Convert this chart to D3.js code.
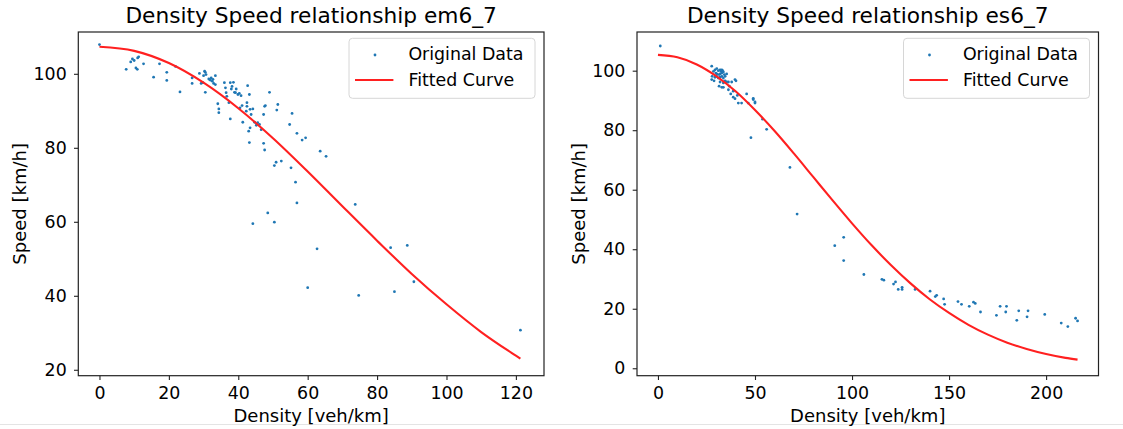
<!DOCTYPE html>
<meta charset="utf-8">
<head>
  <title>Density Speed relationship</title>
  <style>
    body { margin: 0; background: #fff; }
    svg text { font-family: "DejaVu Sans", sans-serif; fill: #000; }
  </style>
  <script src="https://d3js.org/d3.v7.min.js"></script>
</head>
<body>
  <svg width="1123" height="429"></svg>
  <script>
    // ---- data ----
    var em67Density = [0, 7.7, 9, 9.5, 10, 11, 11.3, 10.5, 10.9, 12.7, 15.6, 17.3, 19.4, 19.4, 21.9, 23.2,
      26.7, 26.7, 28.8, 30, 30.3, 30.5, 30.7, 31.5, 31.9, 32.2, 32.5, 32.7, 32.9, 33.4, 33.4, 30.5, 29.3, 29.8,
      34.1, 34.4, 34.4, 36, 36.3, 36.5, 36.7, 37.7, 38, 38.2, 38.6, 38.9, 39.2, 39.4, 39.9, 40.3, 40.8, 41.1,
      40.5, 37.3, 37.7, 42.5, 42.5, 42.3, 42.7, 43.2, 41.3, 43.4, 43.7, 44.2, 44.7, 45.6, 45.2, 46.1, 46.6,
      49, 47.6, 47.8, 47.3, 51.4, 51.1, 43.4,
      43, 43.2, 47.3, 47.6, 50.4, 50.9, 52.4, 54.8, 55.5, 55.2, 56.5, 56.9, 56.9, 58.4, 59.4, 63.6, 65.3,
      44.2, 48.5, 50.4, 62.7, 60, 73.7, 74.7, 83.9, 88.7, 85, 90.6, 121.3];
    var em67Speed = [107.9, 101.2, 103.2, 104, 103.6, 104.3, 104.6, 101.6, 101.2, 102.7, 99.1, 102.7, 100.4, 98.2, 102, 95.1,
      98.9, 97.4, 100.1, 99.5, 100.7, 100.4, 99.8, 98.6, 98.3, 98.9, 98, 98.5, 97.4, 99.5, 97.1, 95, 97.4, 97.6,
      91.9, 90.5, 89.5, 97.6, 96.2, 94.9, 93.9, 97.6, 95.9, 96.6, 97.7, 95, 94.9, 95.9, 94.4, 94.7, 94.1, 91.4,
      90.8, 92.2, 87.8, 92.2, 91.2, 89.9, 96.8, 94.4, 86.9, 90.4, 89, 90.5, 86.9, 86.8, 86.1, 86.3, 84.9,
      95, 91.2, 91.4, 89, 91.7, 90.2, 85.4,
      84.5, 81.4, 81.2, 79.4, 75.2, 76.1, 76.4, 86.3, 89.3, 74.6, 70.7, 83.9, 65.1, 82.1, 82.7, 79.1, 77.7,
      59.5, 62.4, 59.9, 52.7, 42.2, 64.7, 40.1, 53, 53.6, 41.1, 43.8, 30.7];
    var em67FitDensity = [0, 10, 20, 30, 40, 50, 60, 70, 80, 90, 100, 110, 120, 121.3];
    var em67FitSpeed = [107.3, 106.2, 102.9, 97.6, 90.7, 82.6, 73.6, 64.2, 54.9, 45.9, 37.7, 30.2, 23.8, 23.0];

    var es67Density = [1.2,
      27.7, 29.4, 30.3, 31.1, 32, 32.5, 32.9, 33.3, 28.6, 29.8, 30.3, 31.5, 32, 32.9, 33.7, 34.2, 27.9, 29.4,
      30.3, 31.1, 32, 32.9, 33.7, 34.6, 35.4, 34.6, 35.4, 33.7, 32, 31.5, 32.9, 33.7, 36.3, 38, 39.7, 36.8,
      36.3, 38.8, 37.5, 38.8, 39.7, 40.9, 41.4, 43.1, 45.7, 46.5, 49.1, 50, 28.9, 27.7,
      40.2, 49.1, 50, 53.9, 56, 47.9, 68,
      71.7, 91.1, 95.7, 95.7, 106.1, 115.4, 116.4, 121.4, 122.4, 123.8, 125.8, 125.8, 132.5, 140.2, 142.9,
      143.6, 147.2, 147.7, 154.6, 156.4, 160.4, 162.6, 163.5, 166.2, 174.4, 176.3, 179.6, 179.2, 184.9,
      185.9, 190.7, 190.2, 199.3, 207.8, 211.2, 215.2, 216.2];
    var es67Speed = [108.3,
      101.5, 100.3, 100.7, 100, 100.3, 99.8, 100.3, 100, 99.8, 99.2, 98.9, 98.7, 98.9, 99.2, 99.6, 98.7, 98.1, 97.8,
      98.1, 97.5, 97.8, 98.1, 97.5, 98.1, 98.9, 96.6, 96.2, 95.9, 96.2, 94.8, 94.4, 94.4, 96.2, 96.2, 97, 94.8,
      93.6, 93.1, 92.2, 91.1, 90.6, 91.7, 89.1, 89.1, 92.2, 89.1, 90.3, 89.1, 96.6, 97,
      96.6, 90.7, 89.5, 83.7, 80.3, 77.5, 67.5,
      51.8, 41.2, 44, 36.2, 31.5, 29.9, 29.6, 28.3, 29, 26.5, 26.5, 27.2, 26.5, 25.9, 24.1,
      24.5, 23.3, 21.5, 22.4, 21.5, 20.8, 22.2, 21.8, 18.9, 17.8, 20.8, 20.8, 18.9, 16.1,
      19.3, 19.3, 17.3, 18.1, 15.2, 14, 16.8, 15.9];
    var es67FitDensity = [0, 10, 20, 30, 40, 50, 60, 70, 80, 90, 100, 110, 120, 130, 140, 150, 160, 170, 180, 190, 200, 210, 216.2];
    var es67FitSpeed = [105.3, 104.5, 102.1, 98.2, 93.1, 86.8, 79.8, 72.2, 64.3, 56.4, 48.7, 41.4, 34.7, 28.6, 23.2, 18.6, 14.6, 11.3, 8.6, 6.5, 4.8, 3.5, 2.9];

    var em67XTicks = [0, 20, 40, 60, 80, 100, 120];
    var em67YTicks = [20, 40, 60, 80, 100];
    var es67XTicks = [0, 50, 100, 150, 200];
    var es67YTicks = [0, 20, 40, 60, 80, 100];

    var svg = d3.select('svg');

    // faint separator at the very bottom of the screenshot
    svg.append('line')
      .attr('x1', 0).attr('x2', 1123)
      .attr('y1', 424.5).attr('y2', 424.5)
      .attr('stroke', '#e4e4e4');

    function drawPanel(p) {
      var x = d3.scaleLinear().domain(p.xDomain).range([p.left, p.right]);
      var y = d3.scaleLinear().domain(p.yDomain).range([p.bottom, p.top]);
      var g = svg.append('g');

      // title
      g.append('text')
        .attr('x', (p.left + p.right) / 2)
        .attr('y', 23.3)
        .attr('text-anchor', 'middle')
        .style('font-size', '21.7px')
        .text(p.title);

      // scatter
      g.append('g').selectAll('circle')
        .data(p.px.map(function (d, i) { return [d, p.py[i]]; }))
        .join('circle')
        .attr('cx', function (d) { return x(d[0]); })
        .attr('cy', function (d) { return y(d[1]); })
        .attr('r', 1.4)
        .attr('fill', '#1f77b4');

      // fitted curve
      var line = d3.line()
        .x(function (d) { return x(d[0]); })
        .y(function (d) { return y(d[1]); })
        .curve(d3.curveMonotoneX);
      g.append('path')
        .datum(p.fx.map(function (d, i) { return [d, p.fy[i]]; }))
        .attr('d', line)
        .attr('fill', 'none')
        .attr('stroke', '#ff2020')
        .attr('stroke-width', 2.1);

      // axes
      var xAxis = g.append('g')
        .attr('transform', 'translate(0,' + p.bottom + ')')
        .call(d3.axisBottom(x).tickValues(p.xTicks).tickSize(4.3).tickSizeOuter(0).tickPadding(6.7));
      var yAxis = g.append('g')
        .attr('transform', 'translate(' + p.left + ',0)')
        .call(d3.axisLeft(y).tickValues(p.yTicks).tickSize(4.3).tickSizeOuter(0).tickPadding(7.3));
      [xAxis, yAxis].forEach(function (a) {
        a.select('.domain').remove();
        a.selectAll('line').attr('stroke', '#222').attr('stroke-width', 1.1);
        a.selectAll('text').style('font-size', '17.4px').attr('fill', '#000').style('font-family', '"DejaVu Sans", sans-serif');
      });

      // frame
      g.append('rect')
        .attr('x', p.left).attr('y', p.top)
        .attr('width', p.right - p.left).attr('height', p.bottom - p.top)
        .attr('fill', 'none')
        .attr('stroke', '#222')
        .attr('stroke-width', 1.2);

      // axis labels
      g.append('text')
        .attr('x', (p.left + p.right) / 2)
        .attr('y', 421.6)
        .attr('text-anchor', 'middle')
        .style('font-size', '18px')
        .text('Density [veh/km]');
      g.append('text')
        .attr('transform', 'translate(' + (p.left - 52.3) + ',' + ((p.top + p.bottom) / 2) + ') rotate(-90)')
        .attr('text-anchor', 'middle')
        .style('font-size', '18px')
        .text('Speed [km/h]');

      // legend
      var lx = p.right - 9 - 186, ly = p.top + 6.3;
      var lg = g.append('g').attr('transform', 'translate(' + lx + ',' + ly + ')');
      lg.append('rect')
        .attr('width', 186).attr('height', 60)
        .attr('rx', 3.5)
        .attr('fill', 'rgba(255,255,255,0.8)')
        .attr('stroke', '#d6d6d6')
        .attr('stroke-width', 1);
      lg.append('circle')
        .attr('cx', 26).attr('cy', 16.7).attr('r', 1.4)
        .attr('fill', '#1f77b4');
      lg.append('line')
        .attr('x1', 6).attr('x2', 44.4)
        .attr('y1', 41.7).attr('y2', 41.7)
        .attr('stroke', '#ff2020').attr('stroke-width', 2.1);
      lg.append('text')
        .attr('x', 59.4).attr('y', 21.7)
        .style('font-size', '17.4px')
        .text('Original Data');
      lg.append('text')
        .attr('x', 59.4).attr('y', 48)
        .style('font-size', '17.4px')
        .text('Fitted Curve');
    }

    drawPanel({
      title: 'Density Speed relationship em6_7',
      left: 78.3, right: 544, top: 32, bottom: 375.7,
      xDomain: [-6.1, 128.1], yDomain: [18.4, 111.3],
      px: em67Density, py: em67Speed,
      fx: em67FitDensity, fy: em67FitSpeed,
      xTicks: em67XTicks, yTicks: em67YTicks
    });

    drawPanel({
      title: 'Density Speed relationship es6_7',
      left: 637, right: 1098.5, top: 32, bottom: 375.7,
      xDomain: [-10.8, 227], yDomain: [-2.5, 113],
      px: es67Density, py: es67Speed,
      fx: es67FitDensity, fy: es67FitSpeed,
      xTicks: es67XTicks, yTicks: es67YTicks
    });
  </script>
</body>
</html>
